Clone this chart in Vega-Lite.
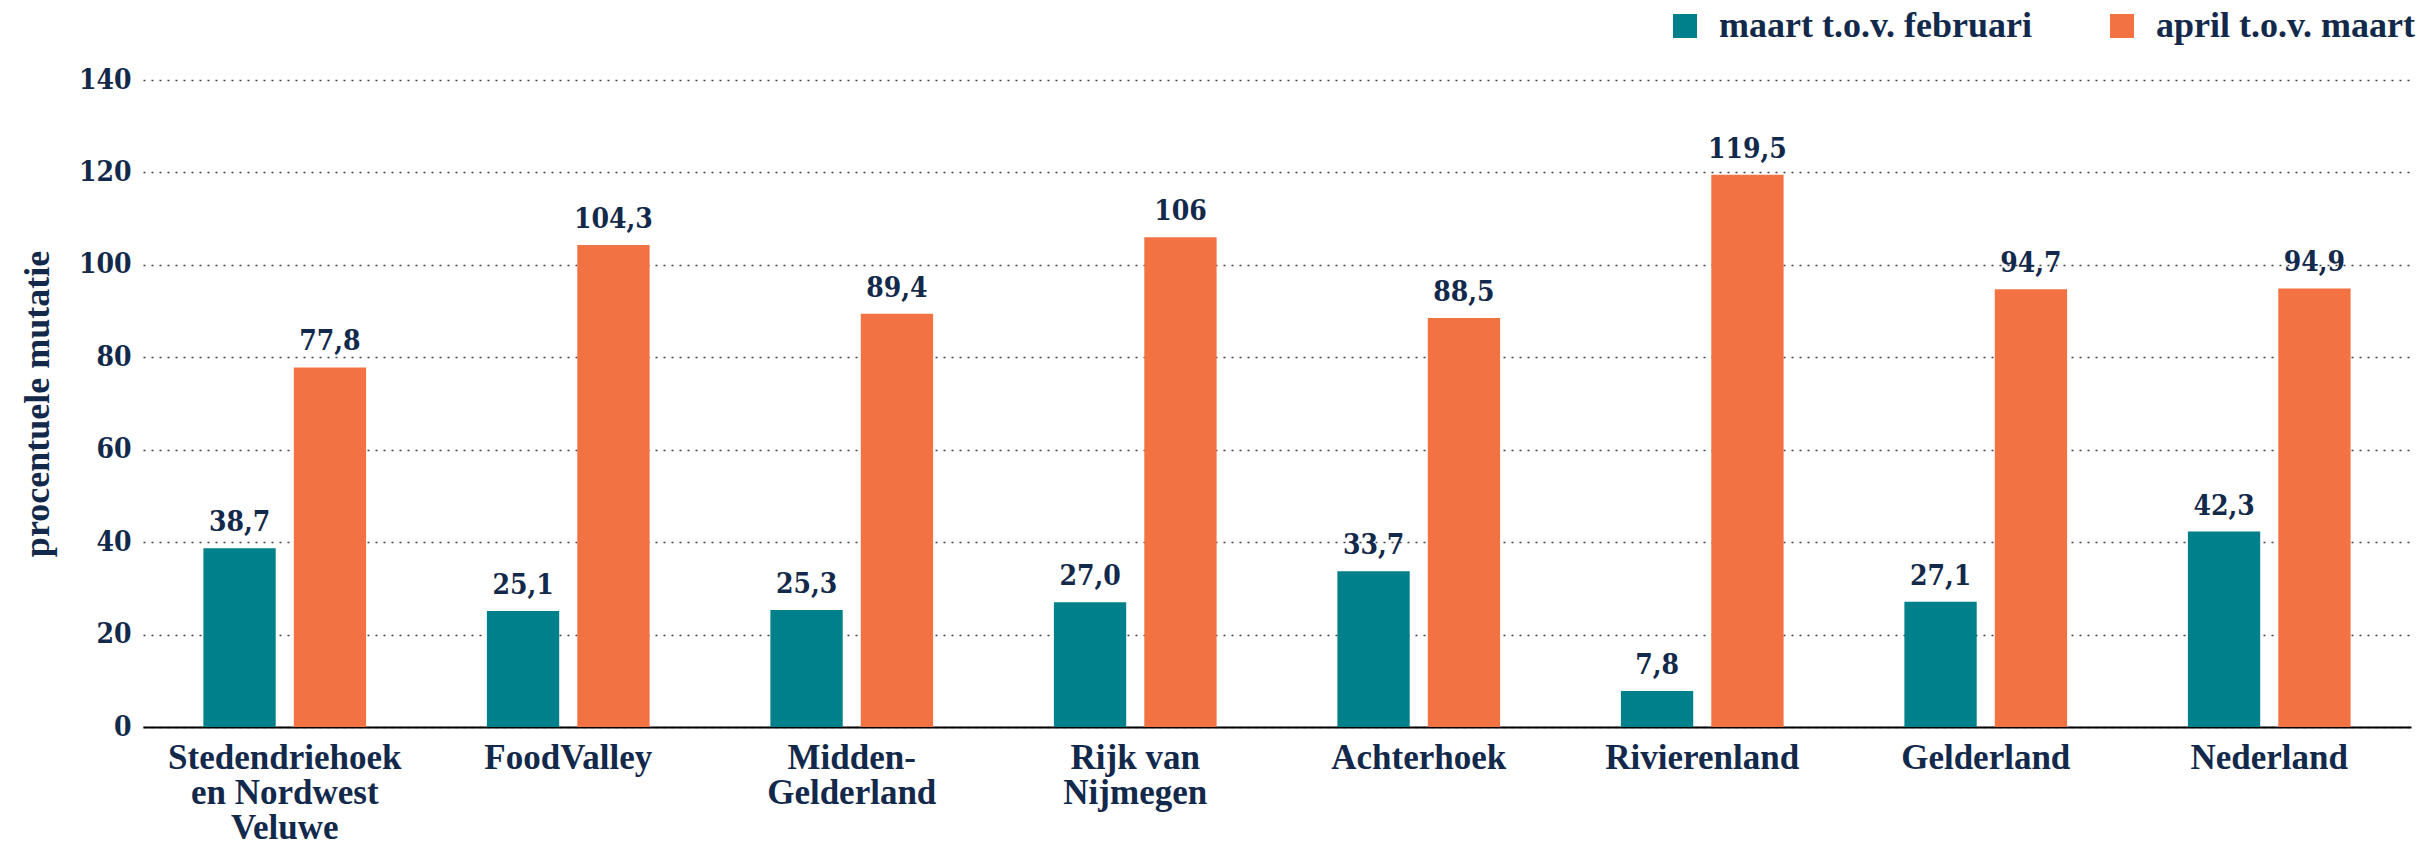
{
  "$schema": "https://vega.github.io/schema/vega-lite/v6.json",
  "width": 2268,
  "height": 647,
  "autosize": "none",
  "padding": {"left": 143, "top": 80, "right": 11, "bottom": 115},
  "background": "white",
  "title": {
    "text": "Bron: UWV",
    "orient": "bottom",
    "anchor": "end",
    "font": "Liberation Serif",
    "fontSize": 30,
    "fontWeight": "normal",
    "color": "#13294b",
    "offset": -8
  },
  "data": {
    "values": [
      {"regio": "Stedendriehoek en Nordwest Veluwe", "periode": "maart t.o.v. februari", "waarde": 38.7, "label": "38,7"},
      {"regio": "Stedendriehoek en Nordwest Veluwe", "periode": "april t.o.v. maart", "waarde": 77.8, "label": "77,8"},
      {"regio": "FoodValley", "periode": "maart t.o.v. februari", "waarde": 25.1, "label": "25,1"},
      {"regio": "FoodValley", "periode": "april t.o.v. maart", "waarde": 104.3, "label": "104,3"},
      {"regio": "Midden-Gelderland", "periode": "maart t.o.v. februari", "waarde": 25.3, "label": "25,3"},
      {"regio": "Midden-Gelderland", "periode": "april t.o.v. maart", "waarde": 89.4, "label": "89,4"},
      {"regio": "Rijk van Nijmegen", "periode": "maart t.o.v. februari", "waarde": 27.0, "label": "27,0"},
      {"regio": "Rijk van Nijmegen", "periode": "april t.o.v. maart", "waarde": 106, "label": "106"},
      {"regio": "Achterhoek", "periode": "maart t.o.v. februari", "waarde": 33.7, "label": "33,7"},
      {"regio": "Achterhoek", "periode": "april t.o.v. maart", "waarde": 88.5, "label": "88,5"},
      {"regio": "Rivierenland", "periode": "maart t.o.v. februari", "waarde": 7.8, "label": "7,8"},
      {"regio": "Rivierenland", "periode": "april t.o.v. maart", "waarde": 119.5, "label": "119,5"},
      {"regio": "Gelderland", "periode": "maart t.o.v. februari", "waarde": 27.1, "label": "27,1"},
      {"regio": "Gelderland", "periode": "april t.o.v. maart", "waarde": 94.7, "label": "94,7"},
      {"regio": "Nederland", "periode": "maart t.o.v. februari", "waarde": 42.3, "label": "42,3"},
      {"regio": "Nederland", "periode": "april t.o.v. maart", "waarde": 94.9, "label": "94,9"}
    ]
  },
  "encoding": {
    "x": {
      "field": "regio",
      "type": "nominal",
      "sort": null,
      "scale": {"paddingInner": 0.426, "paddingOuter": 0.213},
      "axis": {
        "title": null,
        "labelAngle": 0,
        "ticks": false,
        "domain": true,
        "domainColor": "#000000",
        "domainWidth": 2,
        "labelPadding": 13,
        "labelFont": "Liberation Serif",
        "labelFontWeight": "bold",
        "labelFontSize": 35,
        "labelLineHeight": 35,
        "labelColor": "#13294b",
        "labelLimit": 0,
        "labelExpr": "datum.value == 'Stedendriehoek en Nordwest Veluwe' ? ['Stedendriehoek', 'en Nordwest', 'Veluwe'] : datum.value == 'Midden-Gelderland' ? ['Midden-', 'Gelderland'] : datum.value == 'Rijk van Nijmegen' ? ['Rijk van', 'Nijmegen'] : datum.value"
      }
    },
    "xOffset": {
      "field": "periode",
      "type": "nominal",
      "sort": ["maart t.o.v. februari", "april t.o.v. maart"],
      "scale": {"paddingInner": 0.2, "paddingOuter": 0}
    },
    "y": {
      "field": "waarde",
      "type": "quantitative",
      "scale": {"domain": [0, 140], "nice": false},
      "axis": {
        "title": "procentuele mutatie",
        "titleFont": "Liberation Serif",
        "titleFontWeight": "bold",
        "titleFontSize": 36,
        "titleColor": "#13294b",
        "titlePadding": 22,
        "values": [0, 20, 40, 60, 80, 100, 120, 140],
        "domain": false,
        "ticks": false,
        "labelPadding": 12,
        "labelFont": "DejaVu Serif Condensed",
        "labelFontWeight": "bold",
        "labelFontSize": 28,
        "labelColor": "#13294b",
        "grid": true,
        "gridColor": "#444444",
        "gridWidth": 1.5,
        "gridDash": [2, 6]
      }
    }
  },
  "layer": [
    {
      "mark": {"type": "bar"},
      "encoding": {
        "color": {
          "field": "periode",
          "type": "nominal",
          "sort": ["maart t.o.v. februari", "april t.o.v. maart"],
          "scale": {"domain": ["maart t.o.v. februari", "april t.o.v. maart"], "range": ["#00808a", "#f37243"]},
          "legend": {
            "title": null,
            "orient": "none",
            "direction": "horizontal",
            "legendX": 1524,
            "legendY": -72,
            "symbolType": "square",
            "symbolSize": 576,
            "symbolStrokeWidth": 0,
            "symbolOpacity": 1,
            "labelFont": "Liberation Serif",
            "labelFontWeight": "bold",
            "labelFontSize": 36,
            "labelColor": "#13294b",
            "labelOffset": 16,
            "labelLimit": 0,
            "columnPadding": 72
          }
        }
      }
    },
    {
      "mark": {
        "type": "text",
        "baseline": "alphabetic",
        "align": "center",
        "dy": -17,
        "font": "DejaVu Serif Condensed",
        "fontWeight": "bold",
        "fontSize": 28,
        "color": "#13294b"
      },
      "encoding": {
        "text": {"field": "label", "type": "nominal"}
      }
    }
  ],
  "config": {
    "view": {"stroke": null}
  }
}
